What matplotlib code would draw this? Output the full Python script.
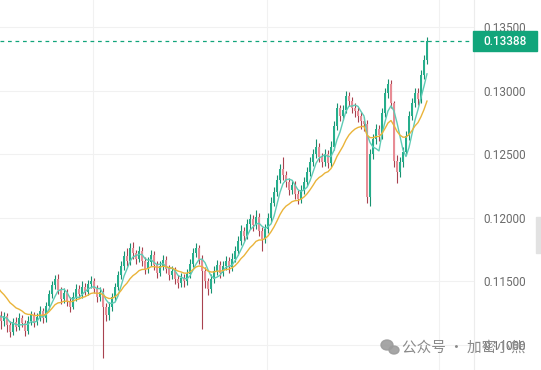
import numpy as np
import pandas as pd
import matplotlib.pyplot as plt
from matplotlib.patches import Rectangle, Ellipse
from matplotlib.ticker import FormatStrFormatter
from matplotlib.transforms import blended_transform_factory

plt.rcParams['font.family'] = ['Roboto', 'Noto Sans CJK SC', 'DejaVu Sans']

# closes before the visible window, only used to warm up the moving averages
warmup_close = [0.1180, 0.1182, 0.1178, 0.1185, 0.1180, 0.1176, 0.1183, 0.1179, 0.1181,
                0.1177, 0.1174, 0.1172, 0.1170, 0.1166, 0.1163, 0.1160, 0.1158, 0.1152,
                0.1145, 0.1130, 0.1124, 0.1121, 0.1125, 0.1122]

close = [0.1119, 0.1123, 0.1116, 0.1110, 0.1118, 0.1114, 0.1121, 0.1117, 0.1111, 0.1119,
         0.1124, 0.1118, 0.1122, 0.1127, 0.1121, 0.1131, 0.1140, 0.1147, 0.1152, 0.1143,
         0.1136, 0.1141, 0.1135, 0.1130, 0.1138, 0.1144, 0.1140, 0.1146, 0.1142, 0.1148,
         0.1150, 0.1144, 0.1138, 0.1142, 0.1130, 0.1124, 0.1130, 0.1138, 0.1146, 0.1155,
         0.1162, 0.1170, 0.1166, 0.1176, 0.1172, 0.1168, 0.1174, 0.1166, 0.1160, 0.1165,
         0.1171, 0.1163, 0.1157, 0.1162, 0.1167, 0.1160, 0.1155, 0.1158, 0.1152, 0.1149,
         0.1153, 0.1150, 0.1156, 0.1164, 0.1172, 0.1176, 0.1168, 0.1158, 0.1150, 0.1144,
         0.1152, 0.1158, 0.1163, 0.1157, 0.1162, 0.1166, 0.1161, 0.1168, 0.1174, 0.1182,
         0.1190, 0.1186, 0.1195, 0.1199, 0.1194, 0.1201, 0.1190, 0.1183, 0.1191, 0.1200,
         0.1212, 0.1220, 0.1230, 0.1238, 0.1234, 0.1228, 0.1222, 0.1226, 0.1219, 0.1215,
         0.1222, 0.1228, 0.1236, 0.1244, 0.1250, 0.1256, 0.1248, 0.1244, 0.1250, 0.1243,
         0.1256, 0.1272, 0.1286, 0.1280, 0.1285, 0.1296, 0.1292, 0.1286, 0.1284, 0.1280,
         0.1276, 0.1274, 0.1216, 0.1250, 0.1262, 0.1270, 0.1265, 0.1282, 0.1298, 0.1305,
         0.1290, 0.1245, 0.1236, 0.1244, 0.1252, 0.1264, 0.1280, 0.1290, 0.1298, 0.1293,
         0.1312, 0.1324, 0.13388]

high = [0.1127, 0.1126, 0.1125, 0.1119, 0.1121, 0.1122, 0.1125, 0.1124, 0.1120, 0.1123,
        0.1127, 0.1126, 0.1125, 0.1131, 0.1129, 0.1134, 0.1143, 0.1150, 0.1155, 0.1156,
        0.1146, 0.1145, 0.1144, 0.1138, 0.1142, 0.1148, 0.1147, 0.1150, 0.1149, 0.1151,
        0.1154, 0.1153, 0.1147, 0.1146, 0.1145, 0.1133, 0.1134, 0.1141, 0.1149, 0.1158,
        0.1166, 0.1174, 0.1176, 0.1180, 0.1181, 0.1175, 0.1178, 0.1177, 0.1169, 0.1169,
        0.1175, 0.1174, 0.1166, 0.1166, 0.1171, 0.1170, 0.1163, 0.1162, 0.1161, 0.1155,
        0.1157, 0.1156, 0.1160, 0.1168, 0.1176, 0.1180, 0.1179, 0.1171, 0.1161, 0.1153,
        0.1156, 0.1162, 0.1167, 0.1166, 0.1166, 0.1170, 0.1169, 0.1172, 0.1178, 0.1186,
        0.1194, 0.1193, 0.1199, 0.1203, 0.1202, 0.1206, 0.1204, 0.1193, 0.1195, 0.1204,
        0.1216, 0.1224, 0.1234, 0.1242, 0.1248, 0.1237, 0.1231, 0.1230, 0.1229, 0.1222,
        0.1226, 0.1232, 0.1240, 0.1248, 0.1254, 0.1262, 0.1259, 0.1251, 0.1254, 0.1253,
        0.1260, 0.1276, 0.1290, 0.1289, 0.1289, 0.1300, 0.1299, 0.1295, 0.1290, 0.1287,
        0.1283, 0.1279, 0.1277, 0.1254, 0.1266, 0.1274, 0.1273, 0.1286, 0.1302, 0.1309,
        0.1308, 0.1292, 0.1249, 0.1248, 0.1256, 0.1268, 0.1284, 0.1294, 0.1302, 0.1302,
        0.1316, 0.1328, 0.1342]

low = [0.1113, 0.1115, 0.1110, 0.1106, 0.1108, 0.1111, 0.1112, 0.1114, 0.1107, 0.1109,
       0.1116, 0.1114, 0.1116, 0.1119, 0.1117, 0.1118, 0.1128, 0.1137, 0.1144, 0.1140,
       0.1132, 0.1133, 0.1131, 0.1126, 0.1128, 0.1135, 0.1137, 0.1137, 0.1139, 0.1139,
       0.1145, 0.1141, 0.1134, 0.1135, 0.1090, 0.1119, 0.1120, 0.1127, 0.1135, 0.1143,
       0.1152, 0.1159, 0.1162, 0.1163, 0.1168, 0.1164, 0.1165, 0.1162, 0.1156, 0.1157,
       0.1162, 0.1159, 0.1153, 0.1154, 0.1159, 0.1157, 0.1151, 0.1152, 0.1148, 0.1145,
       0.1146, 0.1146, 0.1147, 0.1153, 0.1161, 0.1169, 0.1164, 0.1113, 0.1145, 0.1139,
       0.1141, 0.1149, 0.1155, 0.1153, 0.1154, 0.1159, 0.1157, 0.1158, 0.1165, 0.1171,
       0.1179, 0.1182, 0.1183, 0.1191, 0.1190, 0.1191, 0.1186, 0.1174, 0.1180, 0.1188,
       0.1197, 0.1209, 0.1217, 0.1227, 0.1230, 0.1224, 0.1218, 0.1219, 0.1215, 0.1211,
       0.1212, 0.1219, 0.1225, 0.1233, 0.1241, 0.1247, 0.1244, 0.1240, 0.1241, 0.1239,
       0.1240, 0.1253, 0.1269, 0.1276, 0.1277, 0.1282, 0.1288, 0.1282, 0.1279, 0.1275,
       0.1270, 0.1268, 0.1212, 0.1209, 0.1246, 0.1258, 0.1260, 0.1262, 0.1279, 0.1294,
       0.1286, 0.1240, 0.1227, 0.1232, 0.1240, 0.1249, 0.1261, 0.1277, 0.1287, 0.1289,
       0.1290, 0.1309, 0.1321]

last_price = 0.13388
price_ticks = [0.110, 0.115, 0.120, 0.125, 0.130, 0.135]
time_grid = [30.67, 88.67, 146.0]   # candle positions of the faint vertical grid lines
fast_period = 5     # teal line, simple MA
slow_span = 15      # yellow line, EMA
watermark = "公众号 · 加密小熊"

UP_BODY, UP_WICK = '#26ae8c', '#17916f'
DOWN_BODY, DOWN_WICK = '#e88c95', '#a8424f'
FAST_COLOR = '#5fcbb5'
SLOW_COLOR = '#eab43a'
LAST_COLOR = '#12a57b'

close = np.array(close)
high = np.array(high)
low = np.array(low)
opn = np.array([warmup_close[-1]] + list(close[:-1]))
x = np.arange(len(close))

nw = len(warmup_close)
full = pd.Series(warmup_close + list(close), index=np.arange(-nw, len(close)))
fast = full.rolling(fast_period).mean().dropna()
slow = full.ewm(span=slow_span, adjust=False).mean()

W, H = 541, 370
fig = plt.figure(figsize=(W / 100, H / 100), dpi=100)
ax = fig.add_axes([0, 0, 474 / W, 1])
ax.set_xlim(-0.33, 157.67)
ax.set_ylim(0.10804, 0.13712)

# grid
ax.set_yticks(price_ticks)
ax.set_xticks(time_grid)
ax.grid(True, color='#f1f1f1', lw=0.8)
ax.set_axisbelow(True)
ax.tick_params(axis='x', length=0, labelbottom=False)
ax.yaxis.tick_right()
ax.yaxis.set_major_formatter(FormatStrFormatter('%.5f'))
ax.tick_params(axis='y', length=0, pad=6.5, labelsize=8.5, labelcolor='#6b6b6b')
for s in ['top', 'left', 'bottom']:
    ax.spines[s].set_visible(False)
ax.spines['right'].set_color('#ececec')
ax.spines['right'].set_linewidth(0.8)

# candles
up = close >= opn
ax.vlines(x, low, high, colors=np.where(up, UP_WICK, DOWN_WICK), lw=0.8, zorder=2)
body_lo = np.minimum(opn, close)
body_h = np.maximum(np.abs(close - opn), 0.00008)
ax.bar(x, body_h, bottom=body_lo, width=0.62,
       color=np.where(up, UP_BODY, DOWN_BODY), linewidth=0, zorder=3)

# moving averages
ax.plot(fast.index, fast.values, color=FAST_COLOR, lw=1.0, zorder=4)
ax.plot(slow.index, slow.values, color=SLOW_COLOR, lw=1.0, zorder=4)

# last price line and label
ax.axhline(last_price, color=LAST_COLOR, lw=0.9, ls=(0, (3, 3)), zorder=5)
tr = blended_transform_factory(ax.transAxes, ax.transData)
box_h = 20 * (0.13712 - 0.10804) / H
ax.add_patch(Rectangle((473 / 474, last_price - box_h / 2), 64 / 474, box_h,
                       transform=tr, color=LAST_COLOR, clip_on=False, zorder=6))
ax.text(505 / 474, last_price, f'{last_price:.5f}', transform=tr, ha='center', va='center',
        color='white', fontsize=8.5, fontweight='medium', zorder=7)

# scroll tab at the right edge
fig.add_artist(Rectangle((536 / W, 1 - 253 / H), 5 / W, 36 / H,
                         transform=fig.transFigure, color='#e2e2e2', zorder=1))

# watermark
fig.add_artist(Ellipse((387 / W, 1 - 345 / H), 12 / W, 10 / H,
                       transform=fig.transFigure, color='#9c9c9c', alpha=0.9))
fig.add_artist(Ellipse((394 / W, 1 - 350 / H), 10 / W, 8 / H,
                       transform=fig.transFigure, color='#9c9c9c', alpha=0.9))
fig.text(402 / W, 1 - 348 / H, watermark, fontsize=10.5, color='#8a8a8a', va='center',
         ha='left', family=['Noto Sans CJK SC', 'DejaVu Sans'], zorder=8)

fig.savefig('out.png', dpi=100)
